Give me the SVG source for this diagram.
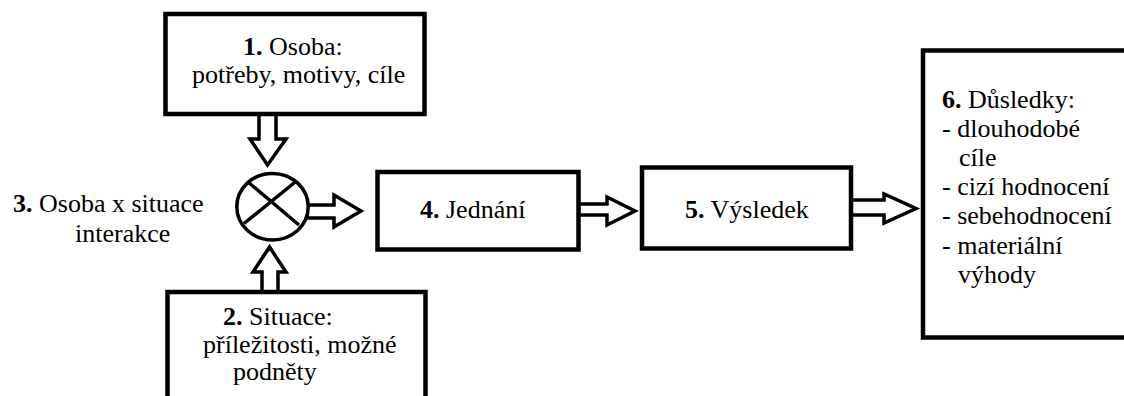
<svg xmlns="http://www.w3.org/2000/svg" width="1124" height="396" viewBox="0 0 1124 396">
  <style>
    .box { fill: #fff; stroke: #000; stroke-width: 4.5; }
    .arrow { fill: #fff; stroke: #000; stroke-width: 3.5; stroke-linejoin: miter; }
    .mix { fill: #fff; stroke: #000; stroke-width: 3.5; }
    .t { font-family: 'Liberation Serif', 'Times New Roman', serif; font-size: 26px; fill: #000; }
    .n { font-weight: bold; }
  </style>
  <rect width="1124" height="396" fill="#fff"/>

  <!-- hollow block arrows between the stages -->
  <g id="connectors">
    <polygon class="arrow" points="259,114 259,139 250,139 267.5,165 286,139 276,139 276,114"/>
    <polygon class="arrow" points="262,292 262,272 253,272 269.5,247 286,272 278,272 278,292"/>
    <polygon class="arrow" points="307,205 334,205 334,195 361,211 334,227 334,218 307,218"/>
    <polygon class="arrow" points="578.5,204 607,204 607,197 635,211 607,225 607,215 578.5,215"/>
    <polygon class="arrow" points="851,200 884,200 884,194 916,208.5 884,223 884,215 851,215"/>
  </g>

  <g id="node-osoba">
    <rect class="box" x="165.5" y="14" width="259" height="100"/>
    <text class="t" font-family="Liberation Serif" x="243" y="55"><tspan class="n">1.</tspan> Osoba:</text>
    <text class="t" font-family="Liberation Serif" x="192" y="83">potřeby, motivy, cíle</text>
  </g>

  <g id="node-situace">
    <rect class="box" x="167.5" y="292" width="258" height="120"/>
    <text class="t" font-family="Liberation Serif" x="223" y="325"><tspan class="n">2.</tspan> Situace:</text>
    <text class="t" font-family="Liberation Serif" x="203" y="353">příležitosti, možné</text>
    <text class="t" font-family="Liberation Serif" x="233" y="380">podněty</text>
  </g>

  <!-- interaction node: circle with a cross -->
  <g id="node-interakce">
    <ellipse class="mix" cx="272.5" cy="206.7" rx="35.7" ry="33.3"/>
    <line x1="248" y1="182" x2="299" y2="225" stroke="#000" stroke-width="3.5"/>
    <line x1="296.5" y1="181" x2="244" y2="223.5" stroke="#000" stroke-width="3.5"/>
    <text class="t" font-family="Liberation Serif" x="13" y="212"><tspan class="n">3.</tspan> Osoba x situace</text>
    <text class="t" font-family="Liberation Serif" x="75" y="242">interakce</text>
  </g>

  <g id="node-jednani">
    <rect class="box" x="377.5" y="172" width="201" height="77.5"/>
    <text class="t" font-family="Liberation Serif" x="420" y="218"><tspan class="n">4.</tspan> Jednání</text>
  </g>

  <g id="node-vysledek">
    <rect class="box" x="642" y="167.5" width="209" height="81"/>
    <text class="t" font-family="Liberation Serif" x="685" y="218"><tspan class="n">5.</tspan> Výsledek</text>
  </g>

  <g id="node-dusledky">
    <rect class="box" x="923" y="50.5" width="220" height="287"/>
    <text class="t" font-family="Liberation Serif" x="942" y="107.5"><tspan class="n">6.</tspan> Důsledky:</text>
    <text class="t" font-family="Liberation Serif" x="942" y="136.7">- dlouhodobé</text>
    <text class="t" font-family="Liberation Serif" x="959" y="165.9">cíle</text>
    <text class="t" font-family="Liberation Serif" x="942" y="195.1">- cizí hodnocení</text>
    <text class="t" font-family="Liberation Serif" x="942" y="224.3">- sebehodnocení</text>
    <text class="t" font-family="Liberation Serif" x="942" y="253.5">- materiální</text>
    <text class="t" font-family="Liberation Serif" x="958" y="282.7">výhody</text>
  </g>
</svg>
